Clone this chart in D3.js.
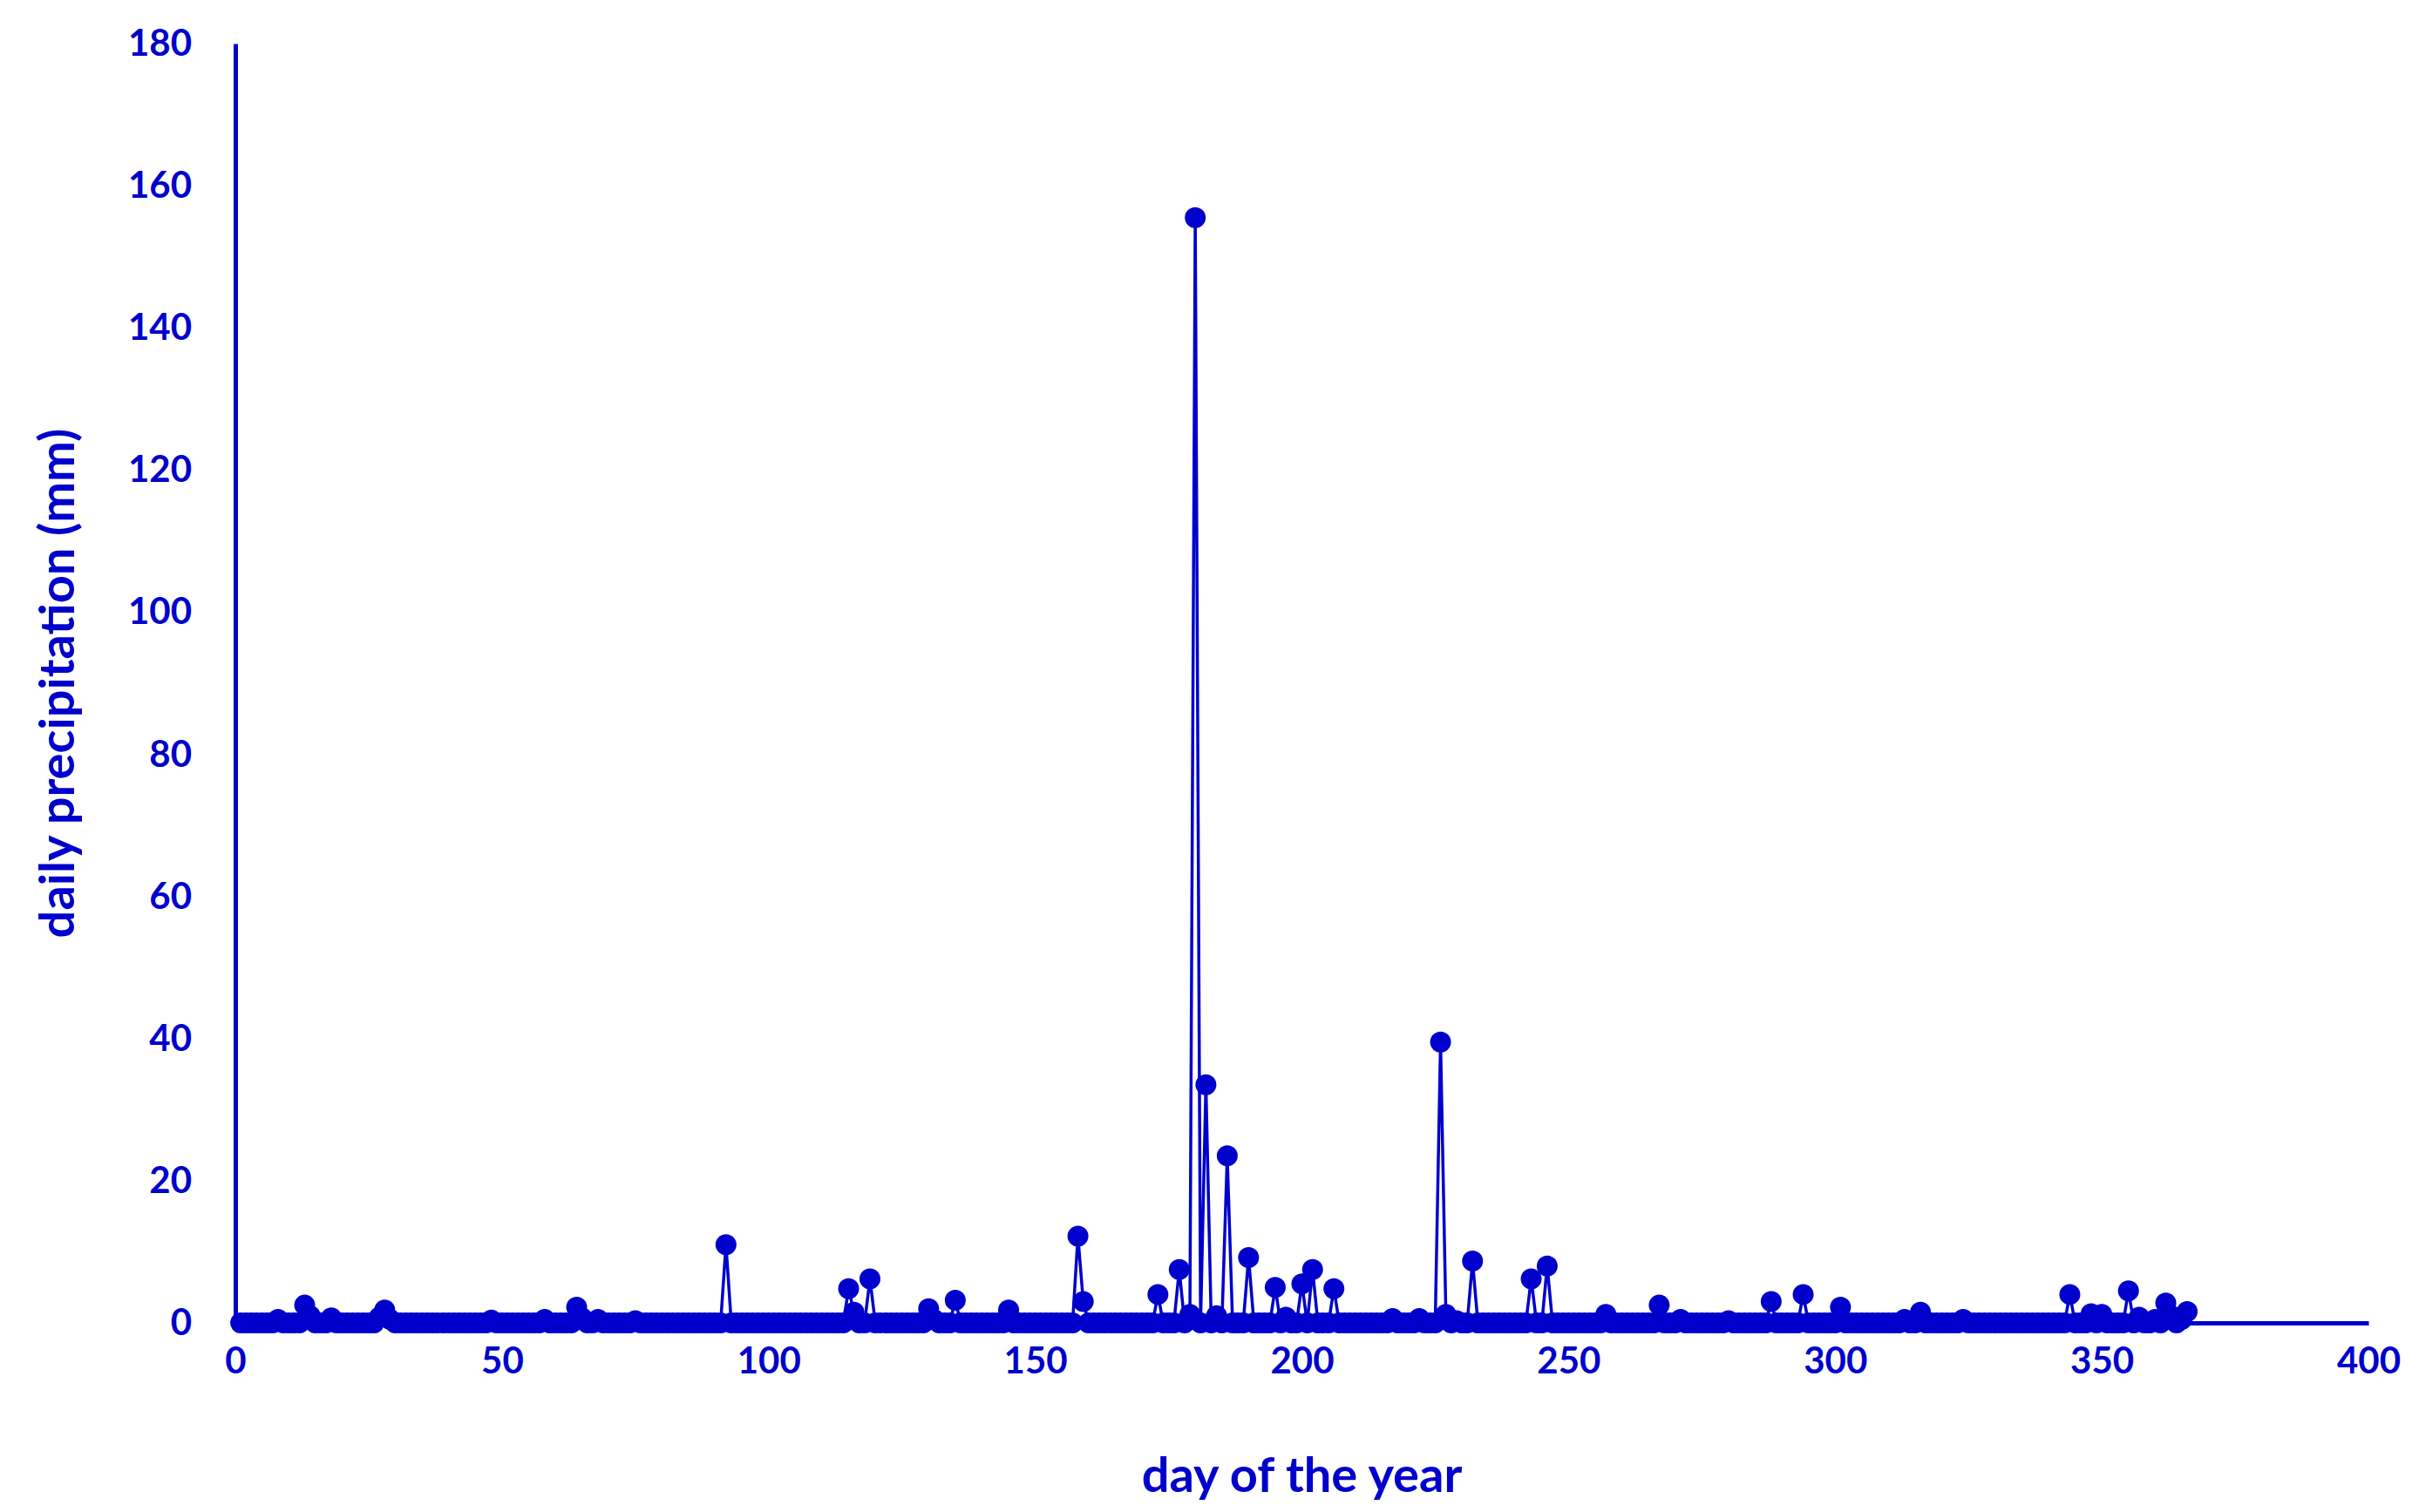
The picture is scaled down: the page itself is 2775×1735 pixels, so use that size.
<!DOCTYPE html>
<html>
<head>
<meta charset="utf-8">
<script src="https://cdn.jsdelivr.net/npm/d3@7"></script>
<style>
  body { margin: 0; background: #fff; }
  text { font-family: Lato, "Open Sans", sans-serif; font-weight: bold; fill: #0000CC; }
</style>
</head>
<body>
<div id="viz"></div>
<script>
// daily precipitation (mm), day 1..366
const precip = [
  0,0,0,0,0,0,0,0.5,0,0,
  0,0,2.5,1,0,0,0,0.7,0,0,
  0,0,0,0,0,0,0.8,1.8,0.5,0,
  0,0,0,0,0,0,0,0,0,0,
  0,0,0,0,0,0,0,0.4,0,0,
  0,0,0,0,0,0,0,0.5,0,0,
  0,0,0,2.2,0.7,0,0,0.5,0,0,
  0,0,0,0,0.3,0,0,0,0,0,
  0,0,0,0,0,0,0,0,0,0,
  0,11,0,0,0,0,0,0,0,0,
  0,0,0,0,0,0,0,0,0,0,
  0,0,0,0,4.8,1.5,0,0,6.2,0,
  0,0,0,0,0,0,0,0,0,2,
  0.5,0,0,0,3.2,0,0,0,0,0,
  0,0,0,0,1.8,0,0,0,0,0,
  0,0,0,0,0,0,0,12.2,3,0,
  0,0,0,0,0,0,0,0,0,0,
  0,0,4,0,0,0,7.5,0,1.2,155.5,
  0,33.5,0,1,0,23.5,0,0,0,9.2,
  0,0,0,0,5,0,0.8,0,0,5.5,
  0,7.5,0,0,0,4.8,0,0,0,0,
  0,0,0,0,0,0,0.6,0,0,0,
  0,0.6,0,0,0,39.5,1.2,0,0.3,0,
  0,8.7,0,0,0,0,0,0,0,0,
  0,0,6.2,0,0,8,0,0,0,0,
  0,0,0,0,0,0,1.2,0,0,0,
  0,0,0,0,0,0,2.5,0,0,0,
  0.5,0,0,0,0,0,0,0,0,0.3,
  0,0,0,0,0,0,0,3,0,0,
  0,0,0,4,0,0,0,0,0,0,
  2.2,0,0,0,0,0,0,0,0,0,
  0,0,0.5,0,0,1.5,0,0,0,0,
  0,0,0,0.5,0,0,0,0,0,0,
  0,0,0,0,0,0,0,0,0,0,
  0,0,0,4,0,0,0,1.3,0,1.2,
  0,0,0,0,4.5,0,0.8,0,0,0.5,
  0,2.8,1,0,0.5,1.6
];
const days = precip.map((_, i) => i + 1);
const xTicks = [0, 50, 100, 150, 200, 250, 300, 350, 400];
const yTicks = [0, 20, 40, 60, 80, 100, 120, 140, 160, 180];

const width = 2775, height = 1735;
const blue = "#0000CC";

const svg = d3.select("#viz").append("svg")
  .attr("width", width).attr("height", height);

const x = d3.scaleLinear().domain([0, 400]).range([270, 2717]);
const y = d3.scaleLinear().domain([0, 180]).range([1518, 50]);

const xAxis = svg.append("g")
  .attr("transform", `translate(0,${y(0)})`)
  .call(d3.axisBottom(x).tickValues(xTicks).tickSize(0).tickPadding(28));
xAxis.select(".domain").attr("stroke", blue).attr("stroke-width", 5);
xAxis.selectAll("text").style("font-size", "42px");

const yAxis = svg.append("g")
  .attr("transform", `translate(${x(0)},0)`)
  .call(d3.axisLeft(y).tickValues(yTicks).tickSize(0).tickPadding(50));
yAxis.select(".domain").attr("stroke", blue).attr("stroke-width", 5);
yAxis.selectAll("text").style("font-size", "42px");

const line = d3.line().x((d, i) => x(days[i])).y(d => y(d));
svg.append("path").datum(precip)
  .attr("d", line).attr("fill", "none")
  .attr("stroke", blue).attr("stroke-width", 3.5);

svg.append("g").selectAll("circle").data(precip).join("circle")
  .attr("cx", (d, i) => x(days[i])).attr("cy", d => y(d))
  .attr("r", 12).attr("fill", blue);

svg.append("text")
  .attr("x", (270 + 2717) / 2).attr("y", 1712)
  .attr("text-anchor", "middle").style("font-size", "56px")
  .text("day of the year");

svg.append("text")
  .attr("transform", `translate(85,${(50 + 1518) / 2}) rotate(-90)`)
  .attr("text-anchor", "middle").style("font-size", "56px")
  .text("daily precipitation (mm)");
</script>
</body>
</html>
